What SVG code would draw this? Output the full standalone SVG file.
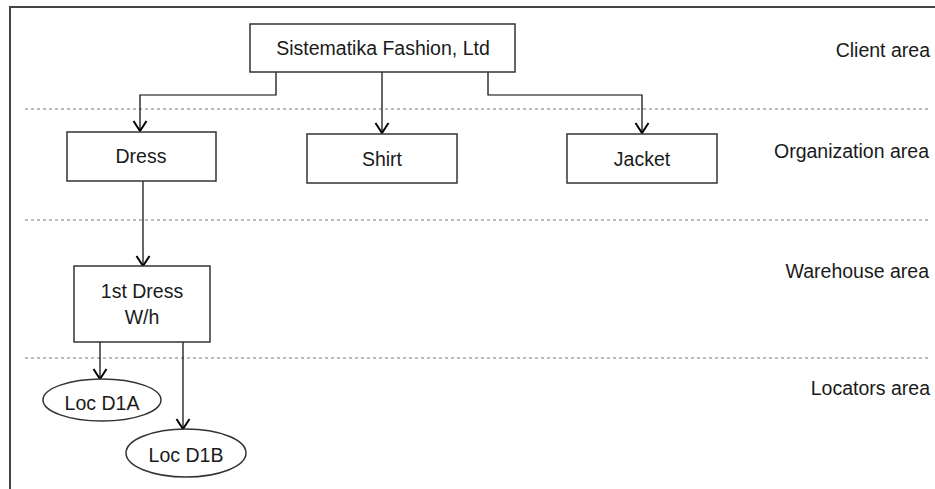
<svg xmlns="http://www.w3.org/2000/svg" width="935" height="489" viewBox="0 0 935 489">
<style>
  .box { fill: #fff; stroke: #333; stroke-width: 1.5; }
  .conn { fill: none; stroke: #000; stroke-width: 1.2; }
  .sep { stroke: #777; stroke-width: 1; stroke-dasharray: 3 3; }
  .frame { stroke: #444; stroke-width: 2; fill: none; }
  text { font-family: "Liberation Sans", Arial, sans-serif; font-size: 19.5px; fill: #1a1a1a; }
  .c { text-anchor: middle; }
  .r { text-anchor: end; }
</style>
<defs>
  <marker id="arr" markerUnits="userSpaceOnUse" markerWidth="20" markerHeight="20" viewBox="-10 -12 20 14" refX="0" refY="0" orient="auto-start-reverse" overflow="visible">
    <path d="M-10,-6.5 L0,0 L-10,6.5" fill="none" stroke="#000" stroke-width="2"/>
  </marker>
</defs>
<rect width="935" height="489" fill="#fff"/>
<g id="frame">
  <line class="frame" x1="9" y1="7" x2="935" y2="7"/>
  <line class="frame" x1="10" y1="6" x2="10" y2="489"/>
</g>
<g id="separators">
  <line class="sep" x1="25" y1="109" x2="928" y2="109"/>
  <line class="sep" x1="25" y1="220" x2="928" y2="220"/>
  <line class="sep" x1="25" y1="358" x2="928" y2="358"/>
</g>
<g id="area-labels">
  <text class="r" x="930" y="57">Client area</text>
  <text class="r" x="929" y="158">Organization area</text>
  <text class="r" x="929" y="278">Warehouse area</text>
  <text class="r" x="930" y="395">Locators area</text>
</g>
<g id="connectors">
  <path class="conn" d="M276,72 V95 H140 V131" marker-end="url(#arr)"/>
  <path class="conn" d="M382,72 V133" marker-end="url(#arr)"/>
  <path class="conn" d="M488,72 V95 H642 V133" marker-end="url(#arr)"/>
  <path class="conn" d="M143,181 V266" marker-end="url(#arr)"/>
  <path class="conn" d="M100,342 V379" marker-end="url(#arr)"/>
  <path class="conn" d="M183,342 V429" marker-end="url(#arr)"/>
</g>
<g id="client">
  <rect class="box" x="250" y="24" width="265" height="48"/>
  <text class="c" x="383" y="55">Sistematika Fashion, Ltd</text>
</g>
<g id="dress">
  <rect class="box" x="67" y="132" width="149" height="49"/>
  <text class="c" x="141" y="163">Dress</text>
</g>
<g id="shirt">
  <rect class="box" x="307" y="134" width="150" height="49"/>
  <text class="c" x="382" y="166">Shirt</text>
</g>
<g id="jacket">
  <rect class="box" x="567" y="134" width="150" height="49"/>
  <text class="c" x="642" y="166">Jacket</text>
</g>
<g id="warehouse">
  <rect class="box" x="74" y="266" width="136" height="76"/>
  <text class="c" x="142" y="298">1st Dress</text>
  <text class="c" x="142" y="324">W/h</text>
</g>
<g id="locD1A">
  <ellipse class="box" cx="102" cy="400" rx="59" ry="21" stroke-width="1.2"/>
  <text class="c" x="102" y="410">Loc D1A</text>
</g>
<g id="locD1B">
  <ellipse class="box" cx="186" cy="453" rx="60" ry="24" stroke-width="1.2"/>
  <text class="c" x="186" y="462">Loc D1B</text>
</g>
</svg>
